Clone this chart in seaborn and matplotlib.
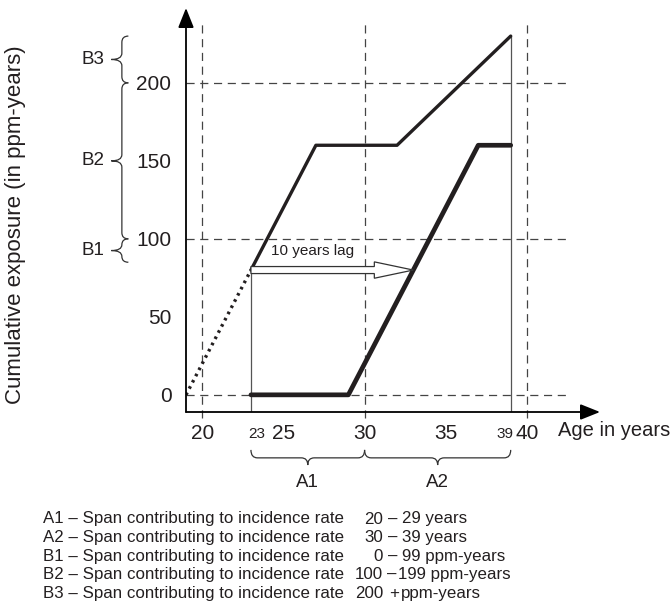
import numpy as np
import seaborn as sns
import matplotlib.pyplot as plt
from matplotlib.path import Path
from matplotlib.patches import PathPatch, FancyArrow

# exposure curves (age in years, cumulative ppm-years)
lead_x = [19, 23]
lead_y = [0, 80]
upper_x = [23, 27, 32, 39]
upper_y = [80, 160, 160, 230]
lower_x = [23, 29, 37, 39]
lower_y = [0, 0, 160, 160]

x_ticks = [20, 25, 30, 35, 40]
x_small = [23, 39]
y_ticks = [0, 50, 100, 150, 200]
x_grid = [20, 30, 40]
y_grid = [0, 100, 200]

# spans (brace ranges)
a_names = ['A1', 'A2']
a_spans = [(23, 30), (30, 39)]
b_names = ['B1', 'B2', 'B3']
b_spans = [(85, 100), (100, 200), (200, 230)]

span_names = ['A1', 'A2', 'B1', 'B2', 'B3']
span_low = ['20', '30', '0', '100', '200']
span_sep = ['\u2013', '\u2013', '\u2013', '\u2013', '+']
span_high = ['29 years', '39 years', '99 ppm-years', '199 ppm-years', 'ppm-years']

lag_start, lag_end, lag_level = 23, 33, 80

sns.set_style("white")
plt.rcParams['font.family'] = ['Liberation Sans', 'DejaVu Sans']

W, H = 672, 614
fig = plt.figure(figsize=(W / 100, H / 100), dpi=100)
ax = fig.add_axes([186 / W, (H - 412) / H, 414 / W, 404 / H])
ax.set_xlim(19, 44.5)
ax.set_ylim(-11, 248)
for s in ax.spines.values():
    s.set_visible(False)

ink = '#231f20'

# dashed reference lines
for gx in x_grid:
    ax.plot([gx, gx], [-15, 240], color='#444444', lw=0.9,
            linestyle=(0, (6.5, 4.5)), clip_on=False, zorder=1)
for gy in y_grid:
    ax.plot([19, 42.5], [gy, gy], color='#444444', lw=0.9,
            linestyle=(0, (6.5, 4.5)), clip_on=False, zorder=1)

# thin verticals at 23 and 39
ax.plot([lower_x[0], lower_x[0]], [-11, upper_y[0]], color='#555555', lw=0.9, zorder=2)
ax.plot([lower_x[-1], lower_x[-1]], [-11, upper_y[-1]], color='#555555', lw=0.9, zorder=2)

# curves
sns.lineplot(x=lead_x, y=lead_y, ax=ax, color=ink, lw=2.4, linestyle=(0, (0.8, 1.3)), zorder=3)
sns.lineplot(x=upper_x, y=upper_y, ax=ax, color=ink, lw=2.4, zorder=3)
sns.lineplot(x=lower_x, y=lower_y, ax=ax, color=ink, lw=3.4, zorder=3)

# 10 years lag arrow
ax.add_patch(FancyArrow(lag_start, lag_level, lag_end - lag_start, 0, width=4.5,
                        head_width=10.5, head_length=2.4, length_includes_head=True,
                        facecolor='white', edgecolor='#333333', lw=0.9, zorder=4))
ax.text(26.8, 92, '10 years lag', fontsize=11, ha='center', va='center', color=ink)

# axes with arrow heads
arrow_kw = dict(arrowstyle='-|>,head_length=1.0,head_width=0.4', color='black',
                lw=1.3, mutation_scale=12, shrinkA=0, shrinkB=0)
ax.annotate('', xy=(19, 248), xytext=(19, -11), arrowprops=arrow_kw, annotation_clip=False)
ax.annotate('', xy=(44.5, -11), xytext=(19, -11), arrowprops=arrow_kw, annotation_clip=False)

ax.set_xticks(x_ticks)
ax.set_xticklabels([str(v) for v in x_ticks])
ax.set_yticks(y_ticks)
ax.set_yticklabels([str(v) for v in y_ticks])
ax.tick_params(axis='both', which='major', length=5.5, width=1, color=ink,
               labelsize=15, pad=3, labelcolor=ink, direction='out')
ax.tick_params(axis='y', which='major', pad=5)

# small labels at 23 and 39, nudged off the line as in the original
for v in x_small:
    ax.text(v + 0.35 if v == x_small[0] else v - 0.38, -27.5, str(v), fontsize=11,
            ha='center', va='baseline', color=ink, clip_on=False)

ax.text(41.9, -23, 'Age in years', fontsize=14.5, ha='left', va='center', color=ink,
        clip_on=False)
fig.text(16 / W, 1 - 225 / H, 'Cumulative exposure (in ppm-years)', rotation=90,
         fontsize=16, ha='center', va='center', color=ink)


def vbrace(y0, y1, x_end, x_sp, x_tip, r):
    ym = (y0 + y1) / 2
    verts = [(x_end, y1), (x_sp, y1), (x_sp, y1 - r), (x_sp, ym + r),
             (x_sp, ym), (x_tip, ym), (x_sp, ym), (x_sp, ym - r),
             (x_sp, y0 + r), (x_sp, y0), (x_end, y0)]
    codes = [Path.MOVETO, Path.CURVE3, Path.CURVE3, Path.LINETO,
             Path.CURVE3, Path.CURVE3, Path.CURVE3, Path.CURVE3,
             Path.LINETO, Path.CURVE3, Path.CURVE3]
    return PathPatch(Path(verts, codes), fill=False, lw=0.9, edgecolor='#333333',
                     clip_on=False)


def hbrace(x0, x1, y_end, y_sp, y_tip, r):
    xm = (x0 + x1) / 2
    verts = [(x0, y_end), (x0, y_sp), (x0 + r, y_sp), (xm - r, y_sp),
             (xm, y_sp), (xm, y_tip), (xm, y_sp), (xm + r, y_sp),
             (x1 - r, y_sp), (x1, y_sp), (x1, y_end)]
    codes = [Path.MOVETO, Path.CURVE3, Path.CURVE3, Path.LINETO,
             Path.CURVE3, Path.CURVE3, Path.CURVE3, Path.CURVE3,
             Path.LINETO, Path.CURVE3, Path.CURVE3]
    return PathPatch(Path(verts, codes), fill=False, lw=0.9, edgecolor='#333333',
                     clip_on=False)


for name, (lo, hi) in zip(b_names, b_spans):
    r = min(4.0, (hi - lo) / 4)
    ax.add_patch(vbrace(lo, hi, 15.45, 15.05, 14.4, r))
    ax.text(13.95, (lo + hi) / 2, name, fontsize=13.5, ha='right', va='center',
            color=ink, clip_on=False)

for name, (lo, hi) in zip(a_names, a_spans):
    ax.add_patch(hbrace(lo, hi, -35.3, -40.4, -45.0, 0.4))
    ax.text((lo + hi) / 2, -56, name, fontsize=13.5, ha='center', va='center',
            color=ink, clip_on=False)

# explanation lines
fs = 12.2
for i, name in enumerate(span_names):
    yy = 1 - (519 + 18.6 * i) / H
    fig.text(43 / W, yy, name + ' \u2013 Span contributing to incidence rate',
             fontsize=fs, ha='left', va='center', color=ink)
    fig.text(383 / W, yy, span_low[i], fontsize=fs, ha='right', va='center', color=ink)
    if span_sep[i] == '+':
        sep_x, high_x = 389, 401
    elif span_low[i] == '100':
        sep_x, high_x = 387, 398
    else:
        sep_x, high_x = 388, 402
    fig.text(sep_x / W, yy, span_sep[i], fontsize=fs, ha='left', va='center', color=ink)
    fig.text(high_x / W, yy, span_high[i], fontsize=fs, ha='left', va='center', color=ink)

fig.savefig('out.png', dpi=100)
